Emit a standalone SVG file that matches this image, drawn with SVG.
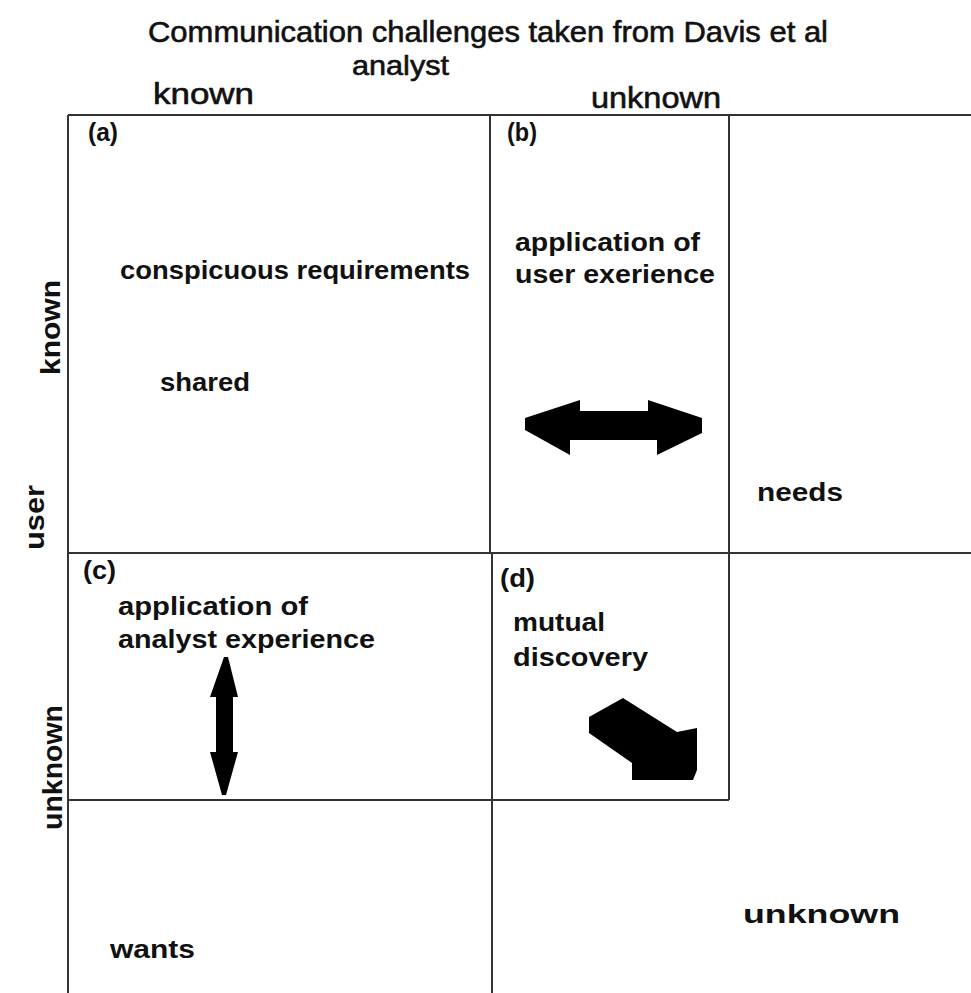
<svg xmlns="http://www.w3.org/2000/svg" width="971" height="993" viewBox="0 0 971 993">
<style>
.ln{stroke:#333;stroke-width:2;fill:none}
.t{font-family:"Liberation Sans",Arial,sans-serif;font-size:25px;fill:#111;font-weight:bold}
.h{font-family:"Liberation Sans",Arial,sans-serif;font-size:30px;fill:#111;stroke:#111;stroke-width:0.6}
.v{font-family:"Liberation Sans",Arial,sans-serif;font-size:27px;fill:#111;font-weight:bold}
.ar{fill:#000}
</style>
<rect width="971" height="993" fill="#fff"/>
<g id="title">
<text class="h" x="148" y="42" textLength="680" lengthAdjust="spacingAndGlyphs">Communication challenges taken from Davis et al</text>
<text class="h" x="352" y="75" style="font-size:28px" textLength="97" lengthAdjust="spacingAndGlyphs">analyst</text>
<text class="h" x="153" y="104" textLength="101" lengthAdjust="spacingAndGlyphs">known</text>
<text class="h" x="591" y="108" textLength="130" lengthAdjust="spacingAndGlyphs">unknown</text>
</g>
<g id="axis-user">
<text class="v" transform="translate(60,375) rotate(-90)" textLength="95" lengthAdjust="spacingAndGlyphs">known</text>
<text class="v" transform="translate(44,550) rotate(-90)" textLength="65" lengthAdjust="spacingAndGlyphs">user</text>
<text class="v" transform="translate(62,830) rotate(-90)" textLength="125" lengthAdjust="spacingAndGlyphs">unknown</text>
</g>
<g id="grid">
<path class="ln" d="M68 115H971M68 115V993M490 115V553M729 115V800M68 553H971M492 553V993M68 800H729"/>
</g>
<g id="cell-a">
<text class="t" x="88" y="141" textLength="30" lengthAdjust="spacingAndGlyphs">(a)</text>
<text class="t" x="120" y="279" textLength="350" lengthAdjust="spacingAndGlyphs">conspicuous requirements</text>
<text class="t" x="160" y="391" textLength="90" lengthAdjust="spacingAndGlyphs">shared</text>
</g>
<g id="cell-b">
<text class="t" x="507" y="141" textLength="30" lengthAdjust="spacingAndGlyphs">(b)</text>
<text class="t" x="515" y="251" textLength="185" lengthAdjust="spacingAndGlyphs">application of</text>
<text class="t" x="515" y="283" textLength="200" lengthAdjust="spacingAndGlyphs">user exerience</text>
</g>
<g id="needs">
<text class="t" x="757" y="501" textLength="86" lengthAdjust="spacingAndGlyphs">needs</text>
</g>
<g id="cell-c">
<text class="t" x="83" y="579" textLength="33" lengthAdjust="spacingAndGlyphs">(c)</text>
<text class="t" x="118" y="615" textLength="190" lengthAdjust="spacingAndGlyphs">application of</text>
<text class="t" x="118" y="648" textLength="257" lengthAdjust="spacingAndGlyphs">analyst experience</text>
</g>
<g id="cell-d">
<text class="t" x="500" y="587" textLength="35" lengthAdjust="spacingAndGlyphs">(d)</text>
<text class="t" x="513" y="631" textLength="92" lengthAdjust="spacingAndGlyphs">mutual</text>
<text class="t" x="513" y="666" textLength="135" lengthAdjust="spacingAndGlyphs">discovery</text>
</g>
<g id="wants">
<text class="t" x="110" y="958" textLength="85" lengthAdjust="spacingAndGlyphs">wants</text>
</g>
<g id="unknown-br">
<text class="t" x="743" y="923" textLength="157" lengthAdjust="spacingAndGlyphs">unknown</text>
</g>
<g id="connectors">
<polygon class="ar" points="525,418 580,400 580,411 648,411 648,400 702,418 702,433 657,455 657,440 570,440 570,455 525,430"/>
<polygon class="ar" points="224,657 228,657 238,697 233,697 233,752 238,752 226,795 222,795 210,752 216,752 216,697 210,697"/>
<polygon class="ar" points="589,717 623,698 677,732 697,728 697,770 693,780 632,780 632,763 589,733"/>
</g>
</svg>
